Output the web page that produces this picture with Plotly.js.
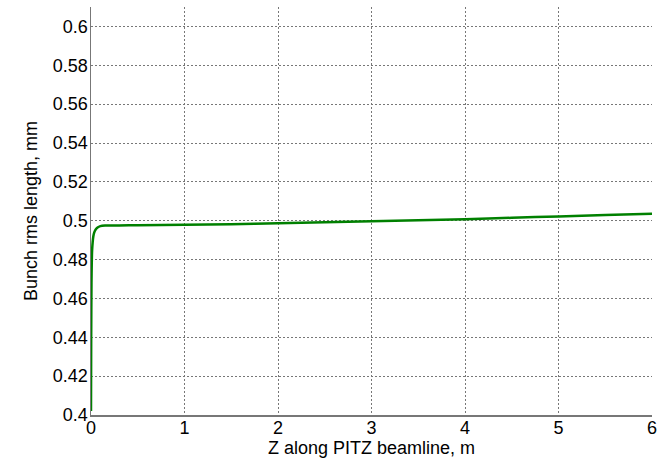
<!DOCTYPE html>
<html><head><meta charset="utf-8">
<script src="https://cdn.plot.ly/plotly-3.0.1.min.js"></script>
<style>html,body{margin:0;padding:0;background:#fff}#c{width:664px;height:458px}</style>
</head><body><div id="c"></div>
<script>
const zPos = [0, 0.002, 0.005, 0.008, 0.012, 0.018, 0.025, 0.035, 0.05, 0.07, 0.1, 0.15, 0.3, 0.5, 1, 1.5, 2, 2.5, 3, 3.5, 4, 4.5, 5, 5.5, 6];
const bunchLen = [0.402, 0.44, 0.468, 0.478, 0.485, 0.489, 0.492, 0.494, 0.4955, 0.4965, 0.4972, 0.4975, 0.4976, 0.4977, 0.4979, 0.4982, 0.4987, 0.4992, 0.4997, 0.5002, 0.5008, 0.5015, 0.5022, 0.5029, 0.5036];
const xTicks = [0,1,2,3,4,5,6];
const yTicks = [0.4,0.42,0.44,0.46,0.48,0.5,0.52,0.54,0.56,0.58,0.6];
const yTickText = ["0.4","0.42","0.44","0.46","0.48","0.5","0.52","0.54","0.56","0.58","0.6"];
const font = {family:"Liberation Sans, Arial, sans-serif", size:18, color:"#000"};
Plotly.newPlot("c", [{
  x: zPos, y: bunchLen, type:"scatter", mode:"lines",
  line:{color:"#008000", width:2.5, shape:"spline", smoothing:0.6}
}], {
  width:664, height:458,
  margin:{l:91, r:12, t:7, b:43},
  paper_bgcolor:"#fff", plot_bgcolor:"#fff",
  showlegend:false,
  font: font,
  xaxis:{range:[0,6], tickvals:xTicks, ticktext:xTicks.map(String),
    showgrid:true, gridcolor:"#777", griddash:"2px,2px", gridwidth:1,
    showline:true, linecolor:"#777", linewidth:1.5, zeroline:false, ticks:"",
    ticklabelstandoff:-4,
    tickfont:font, title:{text:"Z along PITZ beamline, m", font:font, standoff:5}},
  yaxis:{range:[0.4,0.61], tickvals:yTicks, ticktext:yTickText,
    showgrid:true, gridcolor:"#777", griddash:"2px,2px", gridwidth:1,
    showline:true, linecolor:"#777", linewidth:1.5, zeroline:false, ticks:"",
    ticklabelstandoff:-2,
    tickfont:font, title:{text:"Bunch rms length, mm", font:font, standoff:10}}
}, {displayModeBar:false, staticPlot:true});
</script></body></html>
